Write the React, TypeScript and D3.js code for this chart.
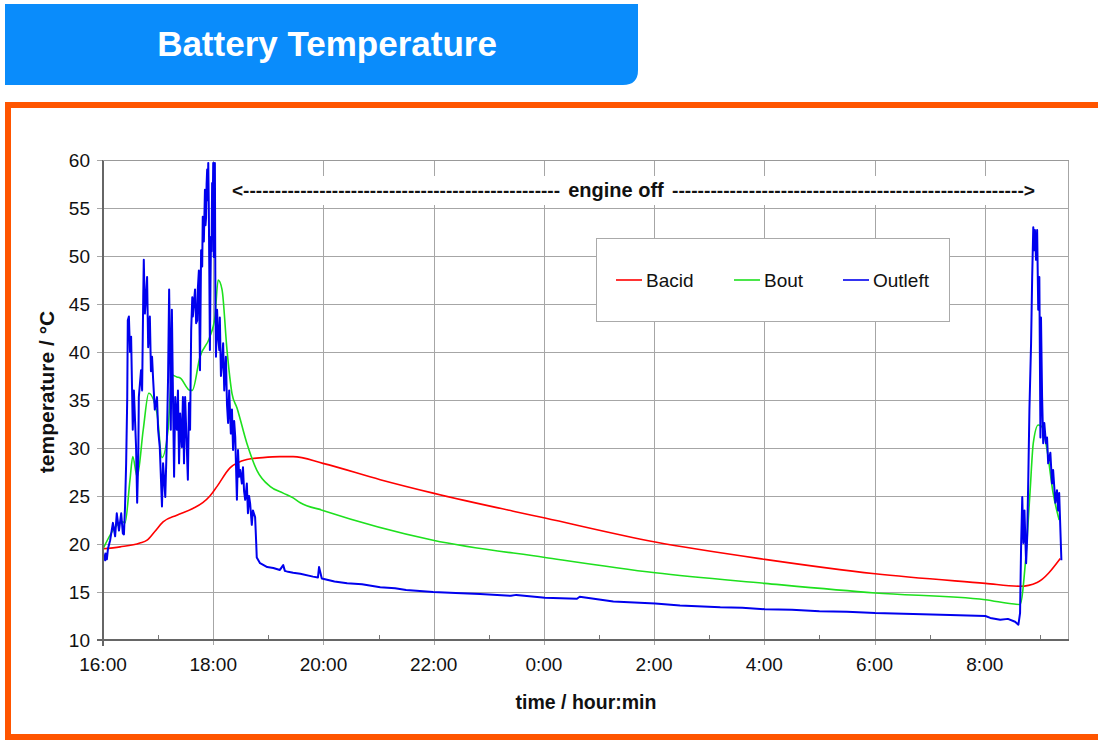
import * as d3 from 'd3';
import { useEffect, useRef } from 'react';

// hours since 16:00, temperature in °C
const bacid: [number, number][] = [
  [0, 19.5], [0.31, 19.7], [0.67, 20.1], [0.8, 20.4], [0.94, 21.3], [1.09, 22.3],
  [1.34, 23.0], [1.63, 23.7], [1.81, 24.3], [1.94, 25.0], [2.07, 26.0], [2.3, 27.9],
  [2.61, 28.8], [2.9, 29.0], [3.21, 29.1], [3.45, 29.1], [3.99, 28.4], [5.03, 26.7],
  [5.99, 25.3], [8.02, 22.7], [10.02, 20.2], [12.01, 18.4], [14.01, 16.9],
  [16.01, 15.9], [16.64, 15.6], [16.95, 16.0], [17.37, 18.5],
];

const bout: [number, number][] = [
  [0, 19.5], [0.36, 22.3], [0.4, 22.2], [0.49, 26.7], [0.54, 29.1], [0.62, 27.0],
  [0.73, 31.9], [0.83, 35.7], [0.98, 33.6], [1.07, 29.0], [1.18, 31.9], [1.25, 37.6],
  [1.34, 37.4], [1.4, 37.3], [1.58, 36.0], [1.62, 36.0], [1.76, 39.5], [1.94, 41.6],
  [2.03, 43.6], [2.09, 47.5], [2.16, 46.5], [2.25, 40.2], [2.34, 35.7], [2.43, 34.2],
  [2.61, 30.5], [2.79, 27.7], [3.03, 26.0], [3.27, 25.3], [3.45, 24.8], [3.58, 24.3],
  [3.99, 23.5], [5.99, 20.4], [8.02, 18.6], [10.02, 17.0], [12.01, 15.9],
  [14.01, 14.9], [16.01, 14.2], [16.64, 13.7], [16.74, 18.3], [16.82, 25.3],
  [16.88, 30.5], [16.97, 32.4], [17.04, 32.2], [17.13, 29.8], [17.24, 25.3],
  [17.35, 22.5],
];

const outleft: [number, number][] = [
  [0, 19.2], [0.02, 18.6], [0.04, 18.3], [0.05, 19.0], [0.07, 18.4], [0.09, 19.5],
  [0.13, 20.4], [0.18, 22.2], [0.22, 20.8], [0.25, 23.2], [0.29, 21.4], [0.33, 23.2],
  [0.36, 21.1], [0.38, 21.0], [0.4, 23.9], [0.42, 28.4], [0.44, 35.3], [0.45, 43.3],
  [0.47, 43.7], [0.49, 40.0], [0.51, 41.6], [0.53, 35.3], [0.54, 31.9], [0.56, 36.0],
  [0.6, 30.1], [0.62, 24.3], [0.64, 29.0], [0.65, 35.3], [0.69, 38.1], [0.71, 36.0],
  [0.73, 45.7], [0.74, 49.6], [0.76, 44.0], [0.78, 45.7], [0.8, 47.8], [0.82, 40.5],
  [0.85, 43.7], [0.87, 38.0], [0.89, 39.5], [0.91, 37.1], [0.94, 34.0], [0.98, 35.3],
  [1.0, 31.9], [1.03, 30.1], [1.07, 23.9], [1.09, 28.4], [1.13, 24.9], [1.16, 31.1],
  [1.18, 37.1], [1.2, 46.5], [1.22, 38.8], [1.23, 31.9], [1.25, 44.4], [1.27, 35.3],
  [1.29, 27.0], [1.31, 35.3], [1.34, 31.9], [1.36, 36.0], [1.38, 28.4], [1.4, 33.6],
  [1.43, 30.1], [1.45, 35.3], [1.47, 28.4], [1.49, 35.3], [1.52, 30.1], [1.54, 26.7],
  [1.56, 34.7], [1.58, 31.9], [1.6, 42.3], [1.62, 45.7], [1.63, 43.7], [1.67, 46.5],
  [1.69, 43.0], [1.71, 43.3], [1.72, 46.5], [1.74, 48.5], [1.76, 38.1], [1.78, 50.6],
  [1.8, 48.9], [1.81, 54.1], [1.83, 51.5], [1.85, 56.9], [1.86, 53.2], [1.87, 54.0],
  [1.88, 57.5], [1.89, 59.0], [1.9, 55.8], [1.91, 59.7], [1.92, 55.0], [1.94, 40.2],
  [1.95, 47.0], [1.96, 52.0], [1.97, 50.5], [1.98, 57.6], [1.99, 54.8], [2.0, 59.7],
  [2.01, 49.9], [2.02, 56.0], [2.03, 59.7], [2.04, 45.0], [2.05, 39.5], [2.07, 44.4],
  [2.09, 41.5], [2.11, 40.2], [2.12, 43.6], [2.14, 37.5], [2.16, 38.8],
  [2.18, 40.9], [2.2, 36.0], [2.23, 39.5], [2.25, 34.5], [2.27, 32.6], [2.29, 36.0],
  [2.32, 31.5], [2.34, 34.0], [2.36, 29.8], [2.38, 32.8], [2.4, 31.1], [2.43, 24.6],
  [2.45, 29.8], [2.47, 27.0], [2.49, 27.7], [2.52, 26.3], [2.54, 28.0], [2.56, 25.5],
  [2.58, 24.6], [2.61, 26.3], [2.63, 23.2], [2.65, 25.0], [2.67, 24.2],
  [2.7, 22.0], [2.72, 23.5], [2.76, 22.8], [2.78, 20.1], [2.79, 18.6], [2.85, 18.0],
  [2.98, 17.6], [3.09, 17.5], [3.21, 17.3], [3.27, 17.8], [3.3, 17.2], [3.36, 17.1],
  [3.45, 17.0], [3.58, 16.9], [3.81, 16.6], [3.9, 16.5], [3.92, 17.6], [3.97, 16.4],
  [4.2, 16.1], [4.43, 15.9], [4.7, 15.8], [5.03, 15.5], [5.3, 15.4], [5.5, 15.2],
  [5.75, 15.1], [5.99, 15.0], [6.4, 14.9], [6.84, 14.8], [7.4, 14.6], [7.5, 14.7],
  [8.02, 14.4], [8.6, 14.3], [8.65, 14.5], [9.26, 14.0], [10.02, 13.8], [10.47, 13.6],
  [11.2, 13.4], [11.6, 13.35], [12.01, 13.2], [12.5, 13.15], [13.0, 13.0],
  [13.5, 12.95], [14.01, 12.8], [14.7, 12.7], [15.37, 12.6],
  [16.01, 12.5], [16.1, 12.3], [16.28, 12.1], [16.42, 12.2],
  [16.55, 11.9], [16.61, 11.6], [16.64, 12.8], [16.66, 20.1], [16.68, 24.9], [16.7, 20.1],
  [16.72, 23.5], [16.75, 18.0], [16.77, 20.8], [16.79, 27.0], [16.81, 34.0], [16.84, 40.9],
  [16.86, 47.8], [16.88, 53.0], [16.9, 50.6], [16.91, 52.7], [16.93, 49.6], [16.95, 52.7],
  [16.97, 44.4], [16.99, 47.8], [17.01, 31.1], [17.02, 43.6], [17.04, 35.3], [17.06, 30.5],
  [17.08, 32.6], [17.11, 30.5], [17.13, 31.1], [17.15, 28.4], [17.19, 29.5], [17.22, 26.3],
  [17.24, 27.7], [17.28, 24.3], [17.31, 25.6], [17.33, 23.5], [17.35, 25.3], [17.39, 18.3],
];

const series = [
  { name: 'Bacid', color: '#ff0000', width: 1.6, values: bacid, smooth: true },
  { name: 'Bout', color: '#1ee01e', width: 1.6, values: bout, smooth: true },
  { name: 'Outleft', color: '#0000ee', width: 2, values: outleft, smooth: false },
];

const yTicks = [10, 15, 20, 25, 30, 35, 40, 45, 50, 55, 60];
const majorHours = [0, 2, 4, 6, 8, 10, 12, 14, 16];
const minorHours = [1, 3, 5, 7, 9, 11, 13, 15, 17];

const font = '"Liberation Sans", Arial, sans-serif';
const W = 1098;
const H = 741;

export default function App() {
  const ref = useRef<SVGSVGElement>(null);

  useEffect(() => {
    const svg = d3.select(ref.current);
    svg.selectAll('*').remove();

    const plot = { left: 103, right: 1068, top: 160, bottom: 640 };
    const x = d3.scaleLinear().domain([0, 17.51]).range([plot.left, plot.right]);
    const y = d3.scaleLinear().domain([10, 60]).range([plot.bottom, plot.top]);
    const fmt = (h: number) => `${(16 + h) % 24}:00`;

    // title banner
    const r = 15;
    svg
      .append('path')
      .attr('d', `M5,4 H638 V${85 - r} Q638,85 ${638 - r},85 H5 Z`)
      .attr('fill', '#0a8cfb');
    svg
      .append('text')
      .attr('x', 327)
      .attr('y', 56)
      .attr('text-anchor', 'middle')
      .attr('font-family', font)
      .attr('font-weight', 'bold')
      .attr('font-size', 35)
      .attr('fill', '#fff')
      .text('Battery Temperature');

    // orange frame
    svg
      .append('rect')
      .attr('x', 8)
      .attr('y', 105)
      .attr('width', 1120)
      .attr('height', 632)
      .attr('fill', 'none')
      .attr('stroke', '#ff5500')
      .attr('stroke-width', 6);

    // grid
    const grid = svg.append('g').attr('stroke', '#a6a6a6').attr('stroke-width', 1);
    grid
      .selectAll('line.h')
      .data(yTicks.filter((d) => d > 10))
      .join('line')
      .attr('x1', plot.left - 6)
      .attr('x2', plot.right)
      .attr('y1', (d) => y(d) + 0.5)
      .attr('y2', (d) => y(d) + 0.5);
    grid
      .selectAll('line.v')
      .data(majorHours.filter((d) => d > 0))
      .join('line')
      .attr('x1', (d) => Math.round(x(d)) + 0.5)
      .attr('x2', (d) => Math.round(x(d)) + 0.5)
      .attr('y1', plot.top)
      .attr('y2', plot.bottom + 5);
    svg
      .append('line')
      .attr('x1', plot.right + 0.5)
      .attr('x2', plot.right + 0.5)
      .attr('y1', plot.top)
      .attr('y2', plot.bottom)
      .attr('stroke', '#a6a6a6');

    // minor hour ticks
    svg
      .append('g')
      .attr('stroke', '#777')
      .selectAll('line')
      .data(minorHours)
      .join('line')
      .attr('x1', (d) => Math.round(x(d)) + 0.5)
      .attr('x2', (d) => Math.round(x(d)) + 0.5)
      .attr('y1', plot.bottom - 5)
      .attr('y2', plot.bottom);

    // annotation band hides grid behind the text
    svg
      .append('rect')
      .attr('x', 225)
      .attr('y', 176)
      .attr('width', 820)
      .attr('height', 29)
      .attr('fill', '#fff');
    const ann = svg
      .append('g')
      .attr('font-family', font)
      .attr('font-weight', 'bold')
      .attr('font-size', 19)
      .attr('fill', '#111');
    ann
      .append('text')
      .attr('x', 232)
      .attr('y', 197)
      .attr('textLength', 328)
      .attr('lengthAdjust', 'spacingAndGlyphs')
      .text('<' + '-'.repeat(50));
    ann
      .append('text')
      .attr('x', 616)
      .attr('y', 197)
      .attr('text-anchor', 'middle')
      .attr('font-size', 20)
      .text('engine off');
    ann
      .append('text')
      .attr('x', 672)
      .attr('y', 197)
      .attr('textLength', 363)
      .attr('lengthAdjust', 'spacingAndGlyphs')
      .text('-'.repeat(55) + '>');

    // series
    const line = d3
      .line<[number, number]>()
      .x((d) => x(d[0]))
      .y((d) => y(d[1]));
    const smoothLine = d3
      .line<[number, number]>()
      .x((d) => x(d[0]))
      .y((d) => y(d[1]))
      .curve(d3.curveMonotoneX);
    svg
      .append('g')
      .attr('fill', 'none')
      .selectAll('path')
      .data(series)
      .join('path')
      .attr('d', (s) => (s.smooth ? smoothLine(s.values) : line(s.values)))
      .attr('stroke', (s) => s.color)
      .attr('stroke-width', (s) => s.width)
      .attr('stroke-linejoin', 'round');

    // axes
    const axes = svg.append('g').attr('stroke', '#666').attr('stroke-width', 2);
    axes
      .append('line')
      .attr('x1', plot.left)
      .attr('x2', plot.left)
      .attr('y1', plot.top)
      .attr('y2', plot.bottom + 6);
    axes
      .append('line')
      .attr('x1', plot.left - 6)
      .attr('x2', plot.right + 1)
      .attr('y1', plot.bottom)
      .attr('y2', plot.bottom);
    svg
      .append('line')
      .attr('x1', plot.left)
      .attr('x2', plot.right + 1)
      .attr('y1', plot.top + 0.5)
      .attr('y2', plot.top + 0.5)
      .attr('stroke', '#999');

    svg
      .append('g')
      .attr('font-family', font)
      .attr('font-size', 19)
      .attr('fill', '#111')
      .selectAll('text')
      .data(yTicks)
      .join('text')
      .attr('x', 90)
      .attr('y', (d) => y(d) + 7)
      .attr('text-anchor', 'end')
      .text((d) => d);
    svg
      .append('g')
      .attr('font-family', font)
      .attr('font-size', 19)
      .attr('fill', '#111')
      .selectAll('text')
      .data(majorHours)
      .join('text')
      .attr('x', (d) => x(d))
      .attr('y', 671)
      .attr('text-anchor', 'middle')
      .text(fmt);

    svg
      .append('text')
      .attr('x', 586)
      .attr('y', 709)
      .attr('text-anchor', 'middle')
      .attr('font-family', font)
      .attr('font-weight', 'bold')
      .attr('font-size', 19.5)
      .attr('fill', '#111')
      .text('time / hour:min');
    svg
      .append('text')
      .attr('transform', 'translate(54,392) rotate(-90)')
      .attr('text-anchor', 'middle')
      .attr('font-family', font)
      .attr('font-weight', 'bold')
      .attr('font-size', 21)
      .attr('fill', '#111')
      .text('temperature / °C');

    // legend
    const lg = svg.append('g');
    lg.append('rect')
      .attr('x', 596.5)
      .attr('y', 238.5)
      .attr('width', 353)
      .attr('height', 83)
      .attr('fill', '#fff')
      .attr('stroke', '#aaa');
    const itemX = [616, 734, 843];
    const item = lg
      .selectAll('g')
      .data(series)
      .join('g')
      .attr('transform', (_, i) => `translate(${itemX[i]},280)`);
    item
      .append('line')
      .attr('x1', 0)
      .attr('x2', 26)
      .attr('stroke', (s) => s.color)
      .attr('stroke-width', 1.6);
    item
      .append('text')
      .attr('x', 30)
      .attr('y', 7)
      .attr('font-family', font)
      .attr('font-size', 19)
      .attr('fill', '#111')
      .text((s) => s.name);
  }, []);

  return (
    <svg
      ref={ref}
      width={W}
      height={H}
      style={{ position: 'absolute', left: 0, top: 0, background: '#fff' }}
    />
  );
}
